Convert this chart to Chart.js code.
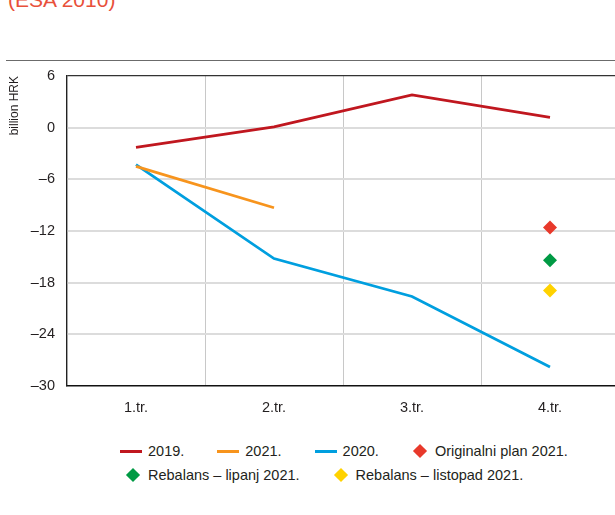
<!DOCTYPE html>
<html>
<head>
<meta charset="utf-8">
<script src="https://cdn.jsdelivr.net/npm/chart.js@4/dist/chart.umd.min.js"></script>
<style>
  html, body { margin: 0; padding: 0; background: #fff; overflow: hidden; width: 615px; height: 515px; }
  #title { position: absolute; left: 8px; top: -11px; font: 21px 'Liberation Sans', Arial, sans-serif; color: #e8503a; line-height: 21px; white-space: nowrap; }
  #rule { position: absolute; left: 6px; top: 60px; width: 609px; height: 1px; background: #6b6b6b; }
  #wrap { position: absolute; left: 0; top: 0; width: 640px; height: 430px; }
  #legend { position: absolute; left: 120px; top: 439px; font: 14.5px 'Liberation Sans', Arial, sans-serif; color: #231f20; }
  .row { height: 24px; display: flex; align-items: center; white-space: nowrap; }
  .row2 { padding-left: 5px; }
  .item { display: flex; align-items: center; margin-right: 33px; }
  .box { width: 22px; height: 24px; position: relative; margin-right: 6px; }
  .box.d { width: 16px; margin-right: 7px; }
  .line { position: absolute; left: 0; top: 11px; width: 22px; height: 3px; }
  .dia { position: absolute; left: 3px; top: 7px; width: 10px; height: 10px; transform: rotate(45deg); }
</style>
</head>
<body>
<div id="title">(ESA 2010)</div>
<div id="rule"></div>
<div id="wrap"><canvas id="c"></canvas></div>
<div id="legend"></div>
<script>
const categories = ['1.tr.', '2.tr.', '3.tr.', '4.tr.'];
const values2019 = [-2.3, 0.1, 3.8, 1.2];
const values2021 = [-4.5, -9.3, null, null];
const values2020 = [-4.3, -15.2, -19.6, -27.8];
const valuesPlanOriginal = [null, null, null, -11.6];
const valuesRebalansLipanj = [null, null, null, -15.4];
const valuesRebalansListopad = [null, null, null, -18.9];
const yTickValues = [6, 0, -6, -12, -18, -24, -30];
const yTickLabels = ['6', '0', '–6', '–12', '–18', '–24', '–30'];
const seriesNames = ['2019.', '2021.', '2020.', 'Originalni plan 2021.', 'Rebalans – lipanj 2021.', 'Rebalans – listopad 2021.'];
const yAxisTitle = 'billion HRK';

const colors = ['#c0171f', '#f7941d', '#009fdf', '#e8392b', '#009a44', '#ffd200'];
const FONT = "'Liberation Sans', Arial, sans-serif";

const lineSeries = [values2019, values2021, values2020];
const pointSeries = [valuesPlanOriginal, valuesRebalansLipanj, valuesRebalansListopad];

const datasets = [];
lineSeries.forEach((d, i) => datasets.push({
  label: seriesNames[i], data: d, borderColor: colors[i], backgroundColor: colors[i],
  borderWidth: 2.8, pointRadius: 0, pointHoverRadius: 0, fill: false, tension: 0, spanGaps: false
}));
pointSeries.forEach((d, i) => datasets.push({
  label: seriesNames[3 + i], data: d, showLine: false, pointStyle: 'rectRot',
  pointRadius: 7, pointHoverRadius: 7, borderWidth: 0,
  backgroundColor: colors[3 + i], borderColor: colors[3 + i]
}));

new Chart(document.getElementById('c'), {
  type: 'line',
  data: { labels: categories, datasets },
  options: {
    responsive: true, maintainAspectRatio: false, animation: false,
    layout: { padding: { top: 76, right: 21, left: 0, bottom: 0 } },
    plugins: { legend: { display: false }, tooltip: { enabled: false } },
    scales: {
      x: {
        offset: true,
        grid: { offset: true, color: '#c8c8c8', lineWidth: 1, drawTicks: false },
        border: { display: true, color: '#111', width: 1.5 },
        ticks: { color: '#231f20', font: { family: FONT, size: 14.5 }, padding: 13 },
        afterFit: s => { s.height = 44; }
      },
      y: {
        min: -30, max: 6,
        afterBuildTicks: s => { s.ticks = yTickValues.map(v => ({ value: v })); },
        grid: {
          drawTicks: false,
          color: c => c.tick && c.tick.value === 6 ? '#333' : (c.tick && c.tick.value === -30 ? 'rgba(0,0,0,0)' : '#dcdcdc'),
          lineWidth: c => c.tick && c.tick.value === 6 ? 1.2 : 2
        },
        border: { display: true, color: '#222', width: 1.2 },
        ticks: {
          color: '#231f20', font: { family: FONT, size: 14.5 }, padding: 12,
          callback: (v) => { const k = yTickValues.indexOf(v); return k >= 0 ? yTickLabels[k] : ''; }
        },
        title: { display: true, text: yAxisTitle, align: 'end', color: '#231f20', font: { family: FONT, size: 12 }, padding: { top: 7, bottom: 0 } },
        afterFit: s => { s.width = 67; }
      }
    }
  }
});

// HTML legend built from the series names and colours
const legend = document.getElementById('legend');
const rows = [[0, 1, 2, 3], [4, 5]];
rows.forEach((r, ri) => {
  const row = document.createElement('div'); row.className = 'row' + (ri === 1 ? ' row2' : '');
  r.forEach(i => {
    const item = document.createElement('div'); item.className = 'item';
    const box = document.createElement('div'); box.className = 'box' + (i < 3 ? '' : ' d');
    const mk = document.createElement('div');
    mk.className = i < 3 ? 'line' : 'dia';
    mk.style.background = colors[i];
    box.appendChild(mk);
    const t = document.createElement('span'); t.textContent = seriesNames[i];
    item.appendChild(box); item.appendChild(t);
    row.appendChild(item);
  });
  legend.appendChild(row);
});
</script>
</body>
</html>
